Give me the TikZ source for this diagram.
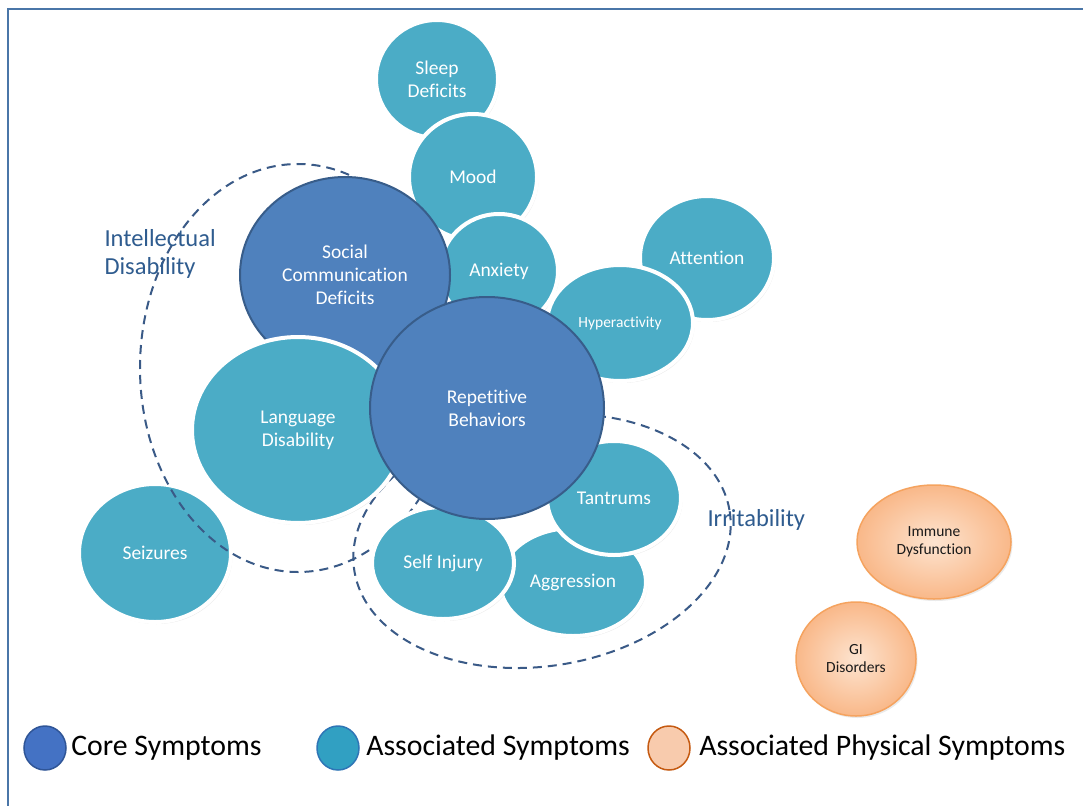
\documentclass[tikz,border=0pt]{standalone}
\usepackage{fontspec}
\setmainfont{Carlito}[Ligatures=NoCommon]
\usepackage{tikz}
\usetikzlibrary{positioning}
\usetikzlibrary{shapes.geometric,shadows}
\definecolor{coreblue}{HTML}{4F81BD}
\definecolor{coreline}{HTML}{385D8A}
\definecolor{assocteal}{HTML}{4BACC6}
\definecolor{physlight}{HTML}{FDE4D0}
\definecolor{physdark}{HTML}{F9B889}
\definecolor{physline}{HTML}{F5A35F}
\definecolor{dashblue}{HTML}{3A5A87}
\definecolor{labelblue}{HTML}{2F5C8F}
\definecolor{framecol}{HTML}{4A76A8}
\definecolor{corekeyfill}{HTML}{4472C4}
\definecolor{corekeyline}{HTML}{2F5597}
\definecolor{assockeyfill}{HTML}{31A0C2}
\definecolor{assockeyline}{HTML}{2E75B6}
\definecolor{physkeyfill}{HTML}{F8CBAD}
\definecolor{physkeyline}{HTML}{C55A11}

\begin{document}
\begin{tikzpicture}[x=1pt,y=-1pt,
  bubble/.style={ellipse,inner sep=0pt,align=center,text=white,font=\fontsize{19.5}{23}\selectfont},
  assoc/.style={bubble,fill=assocteal,draw=white,line width=4pt,
    drop shadow={shadow xshift=1.5pt,shadow yshift=-2pt,opacity=0.2,fill=black!40}},
  core/.style={bubble,fill=coreblue,draw=coreline,line width=2pt},
  phys/.style={bubble,inner color=physlight,outer color=physdark,draw=physline,line width=1.5pt,
    text=black!90,font=\fontsize{15.5}{18}\selectfont,
    drop shadow={shadow xshift=1.5pt,shadow yshift=-2pt,opacity=0.2,fill=black!40}},
  group/.style={dashblue,line width=2pt,dash pattern=on 9pt off 6pt},
  grouplabel/.style={anchor=west,align=left,text=labelblue,font=\fontsize{24.5}{28}\selectfont},
  key/.style={ellipse,minimum width=42pt,minimum height=44pt,line width=1.5pt},
  keytext/.style={font=\fontsize{29.8}{32}\selectfont}]
  \useasboundingbox (0,0) rectangle (1083,805);
  \clip (0,0) rectangle (1083,805);
  \fill[white] (0,0) rectangle (1083,805);
  \draw[framecol,line width=2pt] (8,9) rectangle (1100,820); % frame, cut at right and bottom

  \node[assoc,minimum width=152pt,minimum height=138pt] (seizures) at (155,553) {Seizures};

  % dashed groups, under most bubbles
  \draw[group] (298,368) ellipse [x radius=158, y radius=204]; % intellectual disability
  \draw[group,rotate around={9:(542,541)}] (542,541) ellipse [x radius=190, y radius=125]; % irritability
  \node[grouplabel] (intellabel) at (101,254) {Intellectual\\Disability};
  \node[grouplabel] (irritlabel) at (704,520) {Irritability};

  % upper chain of associated symptoms
  \node[assoc,minimum width=122pt,minimum height=118pt] (sleep) at (437,79) {Sleep\\Deficits};
  \node[assoc,minimum width=128pt,minimum height=126pt] (mood) at (473,177) {Mood};
  \node[assoc,minimum width=118pt,minimum height=114pt] (anxiety) at (499,271) {Anxiety};
  \node[assoc,minimum width=134pt,minimum height=124pt] (attention) at (707,258) {Attention};
  \node[assoc,minimum width=146pt,minimum height=116pt,font=\fontsize{15.5}{18}\selectfont] (hyper) at (620,323) {Hyperactivity};
  \node[core,minimum width=210pt,minimum height=196pt] (social) at (345,275) {Social\\Communication\\Deficits};

  \node[assoc,minimum width=212pt,minimum height=186pt] (language) at (298,430) {Language\\Disability};
  \node[assoc,minimum width=146pt,minimum height=108pt] (aggression) at (573,582) {Aggression};
  \node[assoc,minimum width=142pt,minimum height=112pt] (selfinjury) at (443,563) {Self Injury};
  \node[assoc,minimum width=134pt,minimum height=114pt] (tantrums) at (614,498) {Tantrums};
  \node[core,minimum width=234pt,minimum height=222pt] (repetitive) at (487,408) {Repetitive\\Behaviors};

  % physical symptoms
  \node[phys,minimum width=154pt,minimum height=114pt] (immune) at (934,542) {Immune\\Dysfunction};
  \node[phys,minimum width=120pt,minimum height=114pt] (gi) at (856,659) {GI\\Disorders};

  % legend
  \node[key,fill=corekeyfill,draw=corekeyline] (corekey) at (45,748) {};
  \node[keytext,right=1pt of corekey] (coretext) {Core Symptoms};
  \node[key,fill=assockeyfill,draw=assockeyline] (assockey) at (338,748) {};
  \node[keytext,right=3pt of assockey] (assoctext) {Associated Symptoms};
  \node[key,fill=physkeyfill,draw=physkeyline] (physkey) at (669,748) {};
  \node[keytext,right=5pt of physkey] (phystext) {Associated Physical Symptoms};
\end{tikzpicture}
\end{document}
